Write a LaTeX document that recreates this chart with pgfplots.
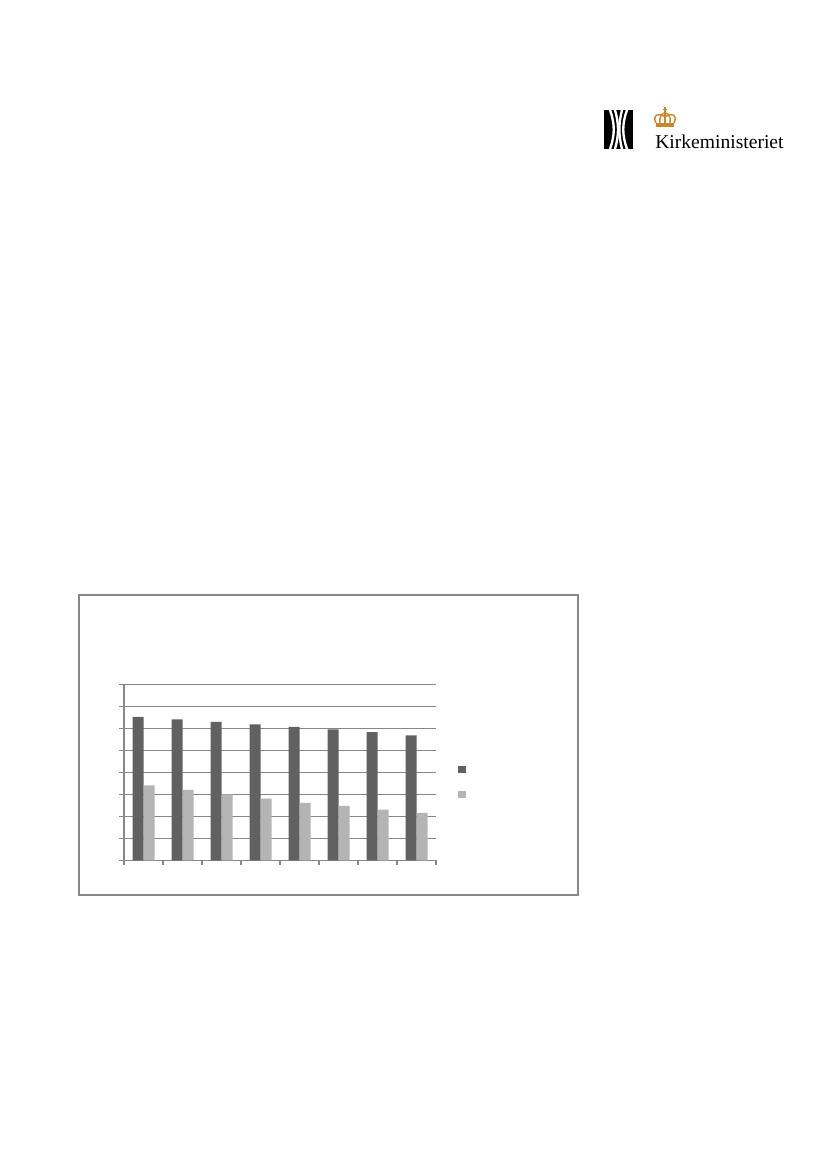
\documentclass[border=0pt]{standalone}
\usepackage{pgfplots}
\pgfplotsset{compat=1.18}
\usepackage{fontspec}
\setmainfont{Liberation Serif}

\definecolor{bardark}{HTML}{616161}
\definecolor{barlight}{HTML}{B4B4B4}
\definecolor{gridgray}{HTML}{878787}
\definecolor{crown}{HTML}{C8862A}

% values (grid units 0..8)
\pgfplotstableread{
x dark light
0 6.52 3.41
1 6.41 3.20
2 6.29 3.00
3 6.18 2.80
4 6.06 2.61
5 5.95 2.47
6 5.83 2.30
7 5.68 2.15
}\chartdata

\begin{document}
\begin{tikzpicture}[x=0.254mm,y=0.254mm]
% page
\path[fill=white] (0,0) rectangle (827,1169);

% logo
\fill[black] (604,1169-110) rectangle (633,1169-149);
\begin{scope}[white, line width=0.6mm]
  \draw (610,1059) .. controls (615,1045) and (615,1034) .. (610,1020);
  \draw (615,1059) .. controls (619,1045) and (619,1034) .. (615,1020);
  \draw (627,1059) .. controls (622,1045) and (622,1034) .. (627,1020);
  \draw (622,1059) .. controls (618.5,1045) and (618.5,1034) .. (622,1020);
\end{scope}
\begin{scope}[crown]
  \fill (656,1169-127) rectangle (674,1169-123.5);
  \draw[line width=0.35mm] (656,1169-123) .. controls (652,1169-115) and (658,1169-112) .. (665,1169-117)
        .. controls (672,1169-112) and (678,1169-115) .. (674,1169-123);
  \draw[line width=0.35mm] (660,1169-123) .. controls (659,1169-116) and (662,1169-113) .. (665,1169-113)
        .. controls (668,1169-113) and (671,1169-116) .. (670,1169-123);
  \draw[line width=0.3mm] (665,1169-123) -- (665,1169-107.5);
  \draw[line width=0.3mm] (663,1169-109.5) -- (667,1169-109.5);
\end{scope}
\node[anchor=base west, inner sep=0pt, font=\fontsize{14.15}{16}\selectfont]
  at (655,1169-149) {Kirkeministeriet};

% chart frame
\draw[gridgray, line width=0.3mm] (79,1169-595) rectangle (578,1169-895);

\begin{axis}[
    at={(31.496mm,78.41mm)}, anchor=south west,
    scale only axis,
    width=79.25mm, height=44.7mm,
    xmin=-0.5, xmax=7.5, ymin=0, ymax=8,
    ybar=0pt, bar width=2.794mm,
    axis lines*=left,
    axis line style={gridgray, line width=0.3mm},
    xtick={-0.5,0.5,...,7.5}, xticklabels={},
    ytick={0,1,...,8}, yticklabels={},
    tick align=outside,
    major tick length=1.2mm,
    tick style={gridgray, line width=0.3mm},
    ymajorgrids,
    grid style={gridgray, line width=0.3mm},
    legend style={draw=none, fill=none, at={(1.0715,0.5358)}, anchor=north west,
      inner sep=0pt, outer sep=0pt, row sep=4.45mm,
      nodes={inner sep=0pt, outer sep=0pt, minimum height=1.9mm}},
  ]
  \addplot[draw=none, fill=bardark,
    legend image code/.code={\fill[bardark] (0mm,-0.95mm) rectangle (1.9mm,0.95mm);}]
    table[x=x, y=dark] {\chartdata};
  \addlegendentry{}
  \addplot[draw=none, fill=barlight,
    legend image code/.code={\fill[barlight] (0mm,-0.95mm) rectangle (1.9mm,0.95mm);}]
    table[x=x, y=light] {\chartdata};
  \addlegendentry{}
\end{axis}
\end{tikzpicture}
\end{document}
